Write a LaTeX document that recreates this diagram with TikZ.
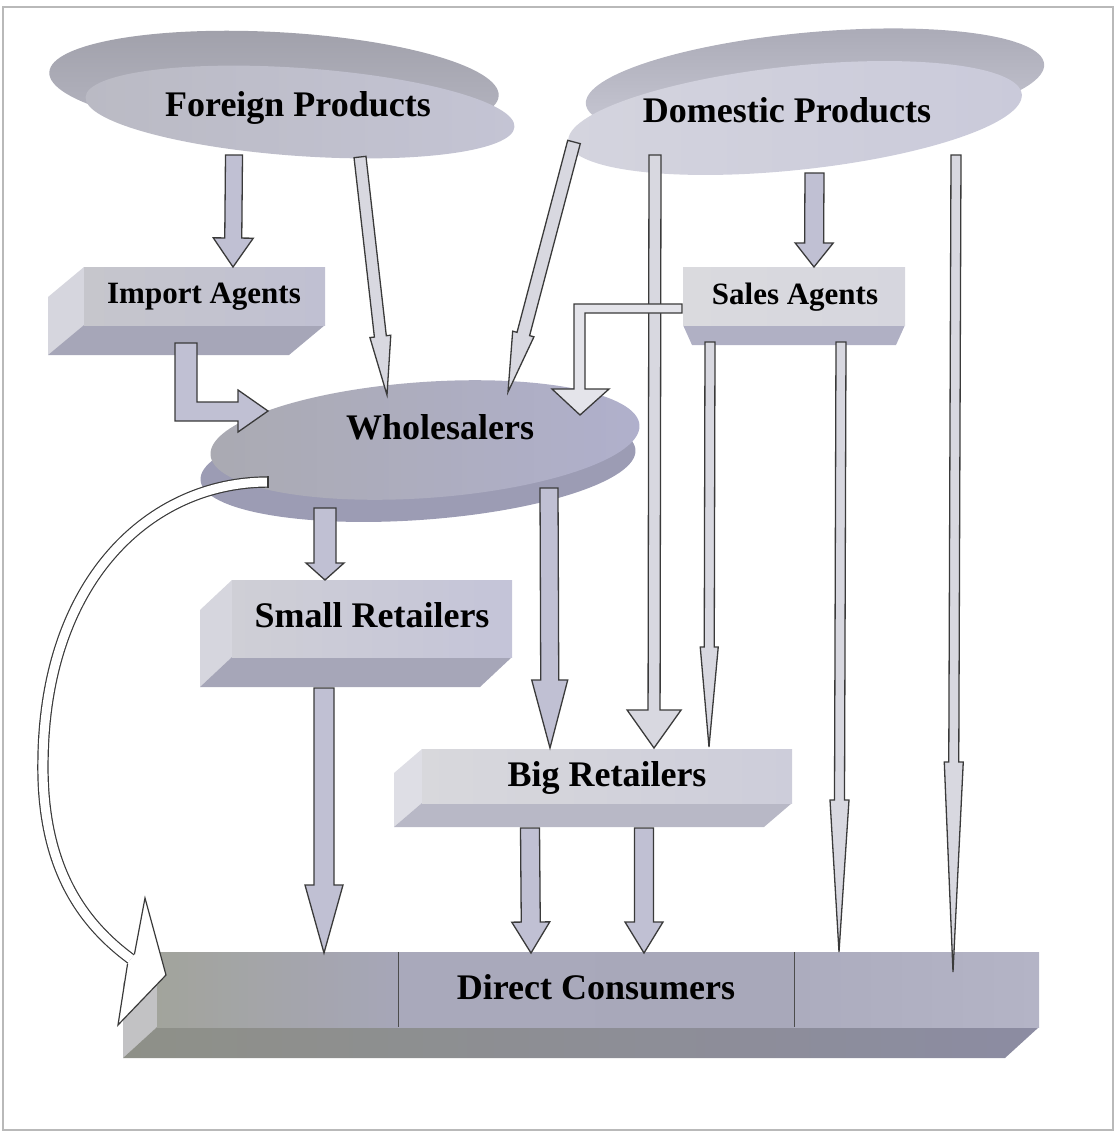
\documentclass[tikz,border=0pt]{standalone}
\usepackage{fontspec}
\setmainfont{Liberation Serif}
\usetikzlibrary{calc}

\definecolor{edge}{HTML}{3A3A3A}
\definecolor{blockfill}{HTML}{C0C0D3}
\definecolor{thinfill}{HTML}{D8D8E0}
\definecolor{palefill}{HTML}{E4E4EA}
\definecolor{sidecol}{HTML}{D6D6DE}
\definecolor{undercol}{HTML}{A6A6B8}

% block arrow: #2 start, #3 tip, #4 half shaft, #5 half head, #6 head length
\newcommand{\flowarrow}[6][]{%
  \coordinate (fa-base) at ($(#3)!#6!(#2)$);
  \filldraw[arrowline,#1] ($(#2)!#4!90:(#3)$) -- ($(fa-base)!#4!-90:(#2)$)
    -- ($(fa-base)!#5!-90:(#2)$) -- (#3) -- ($(fa-base)!#5!90:(#2)$)
    -- ($(fa-base)!#4!90:(#2)$) -- ($(#2)!#4!-90:(#3)$) -- cycle;}

% extruded box: #2 x1, #3 y1, #4 x2, #5 y2, #6 dx, #7 dy, #8 front shading
\newcommand{\slab}[8][]{%
  \fill[sidecol,#1] (#2,#3) -- ++(#6,#7) -- ++(0,#5-#3) -- (#2,#5) -- cycle;
  \fill[undercol,#1] (#2,#5) -- (#4,#5) -- ++(#6,#7) -- ($(#2,#5)+(#6,#7)$) -- cycle;
  \shade[#8] (#2,#3) rectangle (#4,#5);}

\tikzset{
  arrowline/.style={draw=edge, line width=1.3pt, line join=miter},
  maintext/.style={font=\fontsize{36}{40}\selectfont\bfseries, inner sep=0pt},
  agenttext/.style={font=\fontsize{31}{34}\selectfont\bfseries, inner sep=0pt}
}

\begin{document}
\begin{tikzpicture}[x=1pt, y=-1pt]
\useasboundingbox (0,0) rectangle (1118,1138);
\draw[gray!55, line width=1.5pt] (3,7) rectangle (1113,1130);

% discs
\shade[top color={rgb,255:red,160;green,160;blue,170}, bottom color={rgb,255:red,184;green,184;blue,196}, rotate around={-3:(274,84)}] (274,84) ellipse [x radius=225, y radius=52];
\shade[left color={rgb,255:red,186;green,186;blue,196}, right color={rgb,255:red,196;green,196;blue,212}, rotate around={-4:(300,112)}] (300,112) ellipse [x radius=215, y radius=44];

\shade[top color={rgb,255:red,172;green,172;blue,184}, bottom color={rgb,255:red,204;green,204;blue,216}, rotate around={5:(815,84)}] (815,84) ellipse [x radius=230, y radius=52];
\shade[left color={rgb,255:red,212;green,212;blue,222}, right color={rgb,255:red,202;green,202;blue,218}, rotate around={6:(795,118)}] (795,118) ellipse [x radius=228, y radius=52];

\fill[fill={rgb,255:red,156;green,156;blue,180}, rotate around={4:(418,465)}] (418,465) ellipse [x radius=218, y radius=55];
\shade[left color={rgb,255:red,170;green,170;blue,178}, right color={rgb,255:red,176;green,176;blue,204}, rotate around={4:(425,440)}] (425,440) ellipse [x radius=215, y radius=58];

% boxes
\slab{84}{267}{325}{325}{-36}{30}{left color={rgb,255:red,198;green,198;blue,204}, right color={rgb,255:red,192;green,192;blue,210}}
\slab{232}{580}{512}{657}{-32}{30}{left color={rgb,255:red,207;green,207;blue,214}, right color={rgb,255:red,196;green,196;blue,216}}
\slab[opacity=0.8]{422}{749}{792}{803}{-28}{24}{left color={rgb,255:red,216;green,216;blue,220}, right color={rgb,255:red,205;green,205;blue,218}}
\fill[fill={rgb,255:red,176;green,176;blue,196}] (683,325) -- (905,325) -- (896,345) -- (692,345) -- cycle;
\shade[left color={rgb,255:red,218;green,218;blue,222}, right color={rgb,255:red,214;green,214;blue,222}] (683,267) rectangle (905,325);

% direct consumers
\fill[fill={rgb,255:red,194;green,194;blue,196}] (157,952) -- (123,983) -- (123,1058) -- (157,1027) -- cycle;
\shade[left color={rgb,255:red,142;green,144;blue,136}, right color={rgb,255:red,140;green,140;blue,162}] (157,1027) -- (1039,1027) -- (1005,1058) -- (123,1058) -- cycle;
\shade[left color={rgb,255:red,162;green,164;blue,156}, right color={rgb,255:red,166;green,166;blue,184}] (157,952) rectangle (398,1027);
\shade[left color={rgb,255:red,169;green,169;blue,187}, right color={rgb,255:red,168;green,168;blue,186}] (398,952) rectangle (794,1027);
\shade[left color={rgb,255:red,172;green,172;blue,190}, right color={rgb,255:red,180;green,180;blue,198}] (794,952) rectangle (1039,1027);
\draw[gray!60!black, line width=0.8pt] (398,952) -- (398,1027) (794,952) -- (794,1027);

% labels
\node[maintext] (foreign) at (298,108) {Foreign Products};
\node[maintext] (domestic) at (787,110) {Domestic Products};
\node[agenttext] (import) at (204,297) {Import Agents};
\node[agenttext] (sales) at (795,297) {Sales Agents};
\node[maintext] (whole) at (440,427) {Wholesalers};
\node[maintext] (small) at (372,615) {Small Retailers};
\node[maintext] (big) at (607,778) {Big Retailers};
\node[maintext] (direct) at (596,987) {Direct Consumers};

% arrow ends
\coordinate (fp-ia) at (234,155);   \coordinate (ia-in) at (233,267);
\coordinate (fp-wh) at (360,157);   \coordinate (wh-in1) at (387,395);
\coordinate (dp-wh) at (574,142);   \coordinate (wh-in2) at (508,392);
\coordinate (dp-sa) at (814.5,173); \coordinate (sa-in) at (814,267);
\coordinate (dp-br) at (655,155);   \coordinate (br-in1) at (654,748);
\coordinate (dp-dc) at (956,155);   \coordinate (dc-in1) at (953,972);
\coordinate (sa-br) at (710,342);   \coordinate (br-in2) at (709,747);
\coordinate (sa-dc) at (841,342);   \coordinate (dc-in2) at (839,952);
\coordinate (wh-sr) at (325,508);   \coordinate (sr-in) at (325,580);
\coordinate (wh-br) at (549,488);   \coordinate (br-in3) at (550,748);
\coordinate (sr-dc) at (324,688);   \coordinate (dc-in3) at (324,953);
\coordinate (br-dc1) at (530,828);  \coordinate (dc-in4) at (531,953);
\coordinate (br-dc2) at (644,828);  \coordinate (dc-in5) at (644,953);
\coordinate (wh-dc) at (268,482);   \coordinate (dc-in6) at (131,959);

% block arrows
\flowarrow[fill=blockfill]{fp-ia}{ia-in}{8.5pt}{20pt}{29pt}
\flowarrow[fill=blockfill]{dp-sa}{sa-in}{9.5pt}{19pt}{24pt}
\flowarrow[fill=blockfill]{wh-sr}{sr-in}{11pt}{19pt}{17pt}
\flowarrow[fill=blockfill]{sr-dc}{dc-in3}{10pt}{19pt}{68pt}
\flowarrow[fill=blockfill]{br-dc1}{dc-in4}{9.5pt}{19pt}{31pt}
\flowarrow[fill=blockfill]{br-dc2}{dc-in5}{9.5pt}{19pt}{31pt}
\flowarrow[fill=blockfill]{wh-br}{br-in3}{9pt}{18pt}{68pt}

% thin arrows
\flowarrow[fill=thinfill]{fp-wh}{wh-in1}{6pt}{10.5pt}{59pt}
\flowarrow[fill=thinfill]{dp-wh}{wh-in2}{6.5pt}{11pt}{60pt}
\flowarrow[fill=thinfill]{dp-br}{br-in1}{6pt}{27pt}{38pt}
\flowarrow[fill=thinfill]{sa-br}{br-in2}{5pt}{9pt}{100pt}
\flowarrow[fill=thinfill]{sa-dc}{dc-in2}{5pt}{9.5pt}{152pt}
\flowarrow[fill=thinfill]{dp-dc}{dc-in1}{5pt}{9.5pt}{210pt}

% elbow arrows
\filldraw[arrowline, fill=blockfill] (175,343) -- (197,343) -- (197,402) -- (238,402) -- (238,390)
  -- (268,411) -- (238,432) -- (238,421) -- (175,421) -- cycle;
\filldraw[arrowline, fill=palefill] (682,304) -- (574,304) -- (574,389) -- (552,389) -- (580,415)
  -- (609,389) -- (585,389) -- (585,313) -- (682,313) -- cycle;

% curved arrow
\draw[draw=edge, line width=1.2pt, double=white, double distance=9pt] (wh-dc)
  .. controls (150,482) and (45,580) .. (43,760) .. controls (41,870) and (85,925) .. (dc-in6);
\draw[edge, line width=1.2pt] (268,476.3) -- (268,487.7);
\fill[white] (134.4,954.4) -- (145,898) -- (166,975) -- (118,1025) -- (127.6,963.6) -- cycle;
\draw[arrowline, line width=1.2pt] (134.4,954.4) -- (145,898) -- (166,975) -- (118,1025) -- (127.6,963.6);
\end{tikzpicture}
\end{document}
